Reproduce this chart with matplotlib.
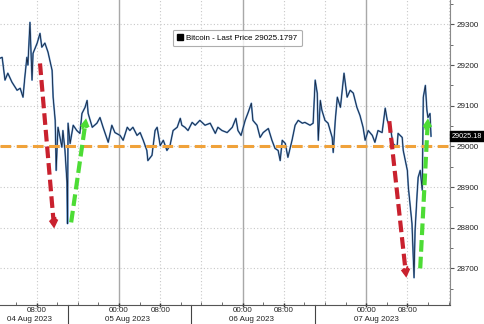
"""Bitcoin last price, 04-07 Aug 2023, Bloomberg-style intraday chart with arrows."""
import matplotlib

matplotlib.use("Agg")
import matplotlib.pyplot as plt
from matplotlib.lines import Line2D
from matplotlib.ticker import MultipleLocator, FixedLocator, NullFormatter

plt.rcParams.update({
    "font.family": ["Liberation Sans", "DejaVu Sans"],
    "font.size": 5.8,
})

# hours since 04 Aug 2023 00:00
hours = [0.9, 1.3, 1.85, 2.4, 3.2, 4.2, 4.8, 5.35, 5.7, 6.1, 6.3, 6.7, 7.1, 7.3,
         8.1, 8.65, 9.0, 9.6, 10.2, 11.0, 11.2, 11.6, 11.8, 12.0, 12.15, 12.9,
         13.1, 13.5, 13.9, 14.0, 14.1, 14.5, 15.1, 15.8, 16.4, 16.8, 17.4, 17.8,
         18.0, 18.8, 19.7, 20.3, 20.9, 21.9, 22.6, 23.2, 24.2, 24.8, 25.6, 26.1,
         26.7, 27.5, 28.1, 28.7, 29.4, 29.6, 30.4, 31.0, 31.4, 32.0, 32.6, 33.3,
         33.9, 34.5, 35.3, 35.9, 36.2, 36.8, 37.4, 38.2, 38.8, 39.7, 40.7, 41.7,
         42.7, 43.2, 44.0, 45.0, 46.0, 46.7, 47.1, 47.7, 48.5, 49.1, 49.7, 50.0,
         50.8, 51.4, 52.0, 53.0, 53.7, 54.3, 54.9, 55.3, 55.7, 56.3, 56.8, 57.6,
         58.2, 58.8, 59.6, 60.1, 61.1, 61.7, 62.1, 62.5, 62.7, 63.1, 63.4, 64.0,
         64.6, 65.4, 65.6, 66.0, 66.4, 67.0, 67.5, 67.7, 68.3, 68.9, 69.5, 70.2,
         70.8, 71.4, 71.8, 72.4, 73.2, 73.7, 74.3, 75.1, 75.7, 76.1, 76.7, 77.2,
         78.0, 78.2, 79.0, 79.2, 80.0, 80.2, 80.5, 80.9, 81.1, 81.3, 81.5, 81.9,
         82.1, 82.5, 82.9, 83.1, 83.5, 83.8, 84.0, 84.4, 84.6]
price = [29217, 29219, 29163, 29180, 29158, 29138, 29143, 29121, 29170, 29219,
         29200, 29305, 29163, 29229, 29254, 29278, 29244, 29254, 29232, 29187,
         29121, 29064, 28941, 29007, 29047, 28998, 29039, 28990, 28909, 28810,
         29057, 29007, 29052, 29039, 29032, 29081, 29096, 29113, 29081, 29047,
         29057, 29071, 29047, 29010, 29052, 29034, 29027, 29015, 29047, 29039,
         29047, 29027, 29034, 29015, 28990, 28965, 28978, 29039, 29047, 29002,
         29015, 28990, 29002, 29039, 29047, 29069, 29052, 29047, 29039, 29059,
         29052, 29064, 29052, 29057, 29032, 29047, 29039, 29034, 29047, 29069,
         29039, 29027, 29064, 29084, 29106, 29064, 29052, 29022, 29034, 29044,
         29015, 28995, 28990, 28965, 29015, 29007, 28973, 29015, 29052, 29064,
         29057, 29059, 29052, 29057, 29163, 29131, 29015, 29113, 29089, 29064,
         29057, 29022, 28985, 29064, 29121, 29096, 29155, 29180, 29121, 29138,
         29131, 29096, 29076, 29047, 29015, 29039, 29027, 29010, 29039, 29034,
         29094, 29064, 29047, 29007, 28998, 29032, 29022, 28990, 28941, 28899,
         28860, 28810, 28744, 28677, 28793, 28884, 28924, 28941, 28892, 29121,
         29150, 29089, 29071, 29081, 29025]

support_level = 29000
last_price = 29025.1797

# arrows: (start_hour, start_price, end_hour, end_price)
red_arrows = [(8.65, 29204, 11.4, 28798), (76.5, 29062, 79.8, 28677)]
green_arrows = [(14.7, 28813, 17.6, 29069), (82.5, 28700, 84.0, 29069)]

time_ticks = [8, 24, 32, 48, 56, 72, 80]
time_labels = ["08:00", "00:00", "08:00", "00:00", "08:00", "00:00", "08:00"]
date_pos = [6.7, 25.7, 49.7, 74.0]
date_labels = ["04 Aug 2023", "05 Aug 2023", "06 Aug 2023", "07 Aug 2023"]
separators = [14, 38, 62]

C_RED = "#c9212e"
C_GREEN = "#4ddc35"
C_ORANGE = "#f0a23a"


def draw_arrow(ax, seg, color):
    x0, y0, x1, y1 = seg
    ax.annotate("", xy=(x1, y1), xytext=(x0, y0), zorder=6,
                arrowprops=dict(arrowstyle="-|>,head_length=0.65,head_width=0.38",
                                color=color, lw=3.0, ls=(0, (2.8, 1.2)),
                                shrinkA=0, shrinkB=0, capstyle="butt",
                                joinstyle="miter"))


def main():
    fig = plt.figure(figsize=(4.85, 3.24), dpi=100)
    ax = fig.add_axes([0.0, 0.06, 0.928, 0.94])

    ax.set_xlim(0.88, 88.3)
    ax.set_ylim(28611, 29360)

    # grid: solid at midnight, dotted otherwise
    for h in range(8, 89, 8):
        if h % 24 == 0:
            ax.axvline(h, color="#a8a8a8", lw=1.0, zorder=1)
        else:
            ax.axvline(h, color="#c8c8c8", lw=0.8, ls=(0, (1, 2)), zorder=1)
    for p in range(28700, 29301, 100):
        ax.axhline(p, color="#c8c8c8", lw=0.8, ls=(0, (1, 2)), zorder=1)

    ax.axhline(support_level, color=C_ORANGE, lw=2.2, ls=(0, (3.5, 1.8)), zorder=4)

    ax.plot(hours, price, color="#6a9ad0", lw=1.3, zorder=2)
    ax.plot(hours, price, color="#14253f", lw=0.6, zorder=3)

    for seg in red_arrows:
        draw_arrow(ax, seg, C_RED)
    for seg in green_arrows:
        draw_arrow(ax, seg, C_GREEN)

    for s in ["top", "left"]:
        ax.spines[s].set_visible(False)
    ax.spines["right"].set_color("#8a8a8a")
    ax.spines["bottom"].set_color("#555555")
    ax.yaxis.tick_right()
    ax.yaxis.set_major_locator(MultipleLocator(100))
    ax.yaxis.set_minor_locator(MultipleLocator(50))
    ax.tick_params(axis="y", which="major", length=3, width=0.8, pad=1.5,
                   labelsize=5.8, color="#555555", labelcolor="#222222")
    ax.tick_params(axis="y", which="minor", length=2, width=0.6, color="#555555")

    ax.xaxis.set_major_locator(FixedLocator(time_ticks))
    ax.set_xticklabels(time_labels)
    ax.xaxis.set_minor_locator(MultipleLocator(4))
    ax.xaxis.set_minor_formatter(NullFormatter())
    ax.tick_params(axis="x", which="major", direction="inout", length=3, width=1.0,
                   pad=0.5, labelsize=5.8, color="#333333", labelcolor="#222222")
    ax.tick_params(axis="x", which="minor", direction="in", length=2, width=0.6,
                   color="#555555")

    trans = ax.get_xaxis_transform()
    for xp, lab in zip(date_pos, date_labels):
        ax.text(xp, -0.048, lab, transform=trans, ha="center", va="center",
                fontsize=5.8, color="#222222", clip_on=False)
    for xs in separators:
        ax.plot([xs, xs], [0, -0.07], transform=trans, color="#444444",
                lw=0.8, clip_on=False)

    # last price tag at the right edge, two decimals as in the original
    ax.text(1.004, last_price, f"{last_price:.2f}", transform=ax.get_yaxis_transform(),
            ha="left", va="center", fontsize=5.2, color="white", clip_on=False,
            bbox=dict(boxstyle="square,pad=0.2", facecolor="black", edgecolor="black"))

    handle = Line2D([], [], marker="s", color="black", ls="none", markersize=4.5)
    leg = ax.legend([handle], [f"Bitcoin - Last Price {last_price}"],
                    loc="upper left", bbox_to_anchor=(0.384, 0.902),
                    fontsize=5.8, frameon=True, fancybox=True,
                    handlelength=0.8, handletextpad=0.3, borderpad=0.55,
                    borderaxespad=0)
    leg.get_frame().set_edgecolor("#9a9a9a")
    leg.get_frame().set_linewidth(0.8)
    leg.set_zorder(7)

    fig.savefig("out.png", dpi=100)
    plt.close(fig)


if __name__ == "__main__":
    main()
